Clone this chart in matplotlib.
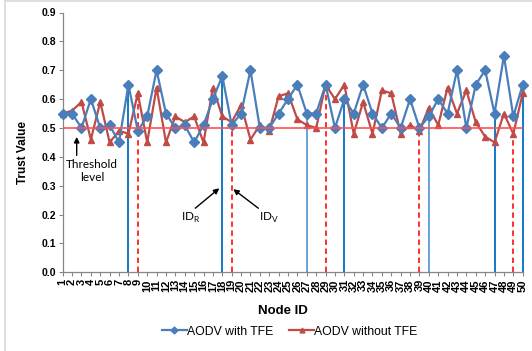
import matplotlib
matplotlib.use('Agg')
import matplotlib.pyplot as plt
from matplotlib.lines import Line2D

# trust values, node 1..50
nodes = list(range(1, 51))
with_tfe = [0.55, 0.55, 0.50, 0.60, 0.50, 0.51, 0.45, 0.65, 0.49, 0.54,
            0.70, 0.55, 0.50, 0.51, 0.45, 0.51, 0.60, 0.68, 0.51, 0.55,
            0.70, 0.50, 0.50, 0.55, 0.60, 0.65, 0.55, 0.55, 0.65, 0.50,
            0.60, 0.55, 0.65, 0.55, 0.50, 0.55, 0.50, 0.60, 0.50, 0.54,
            0.60, 0.55, 0.70, 0.50, 0.65, 0.70, 0.55, 0.75, 0.54, 0.65]
without_tfe = [0.55, 0.56, 0.59, 0.46, 0.59, 0.45, 0.49, 0.48, 0.62, 0.45,
               0.64, 0.45, 0.54, 0.52, 0.54, 0.45, 0.64, 0.54, 0.52, 0.58,
               0.46, 0.51, 0.49, 0.61, 0.62, 0.53, 0.51, 0.50, 0.65, 0.60,
               0.65, 0.48, 0.59, 0.48, 0.63, 0.62, 0.48, 0.51, 0.49, 0.57,
               0.51, 0.64, 0.55, 0.63, 0.52, 0.47, 0.45, 0.55, 0.48, 0.62]
threshold = 0.5
marked_with = [8, 18, 27, 31, 40, 47, 50]
marked_without = [9, 19, 29, 39, 49]
yticks = [0.0, 0.1, 0.2, 0.3, 0.4, 0.5, 0.6, 0.7, 0.8, 0.9]

W, H = 532, 351
plt.rcParams['font.family'] = ['Liberation Sans', 'DejaVu Sans']
fig = plt.figure(figsize=(W / 100, H / 100), dpi=100)
ax = fig.add_axes([62.7 / W, 1 - 272.3 / H, 460 / W, 259.8 / H])

blue = '#4A7EBB'
red = '#BE4B48'
gray = '#868686'

# vertical marker lines
light = {27, 40}
for n in marked_with:
    c = '#5B9BD5' if n in light else '#0070C0'
    ax.vlines(n, 0, with_tfe[n - 1], colors=c, lw=1.3, zorder=2, clip_on=False)
for n in marked_without:
    ax.vlines(n, 0, without_tfe[n - 1], colors='#FF2020', lw=1.3,
              linestyles=(0, (3, 2)), zorder=2)

ax.plot(nodes, with_tfe, color=blue, lw=1.6, marker='D', ms=5,
        clip_on=False, zorder=4)
ax.plot(nodes, without_tfe, color=red, lw=1.6, marker='^', ms=5,
        clip_on=False, zorder=3)
ax.axhline(threshold, color='#FF5050', lw=1.4, alpha=0.85, zorder=5)

ax.set_xlim(1, 50)
ax.set_ylim(0, 0.9)
ax.set_yticks(yticks)
ax.set_yticklabels(['%.1f' % v for v in yticks], fontsize=7.5, fontweight='bold')
ax.set_xticks(nodes)
ax.set_xticklabels([str(n) for n in nodes], rotation=90, fontsize=8,
                   fontweight='bold')
ax.tick_params(direction='out', length=3, width=0.8, color=gray, pad=2)
for s in ['top', 'right']:
    ax.spines[s].set_visible(False)
for s in ['left', 'bottom']:
    ax.spines[s].set_color(gray)
    ax.spines[s].set_linewidth(0.9)

fig.text(283 / W, 1 - 311 / H, 'Node ID', fontsize=9.5, fontweight='bold',
         ha='center', va='center')
fig.text(23 / W, 1 - 153 / H, 'Trust Value', fontsize=8.5, fontweight='bold',
         ha='center', va='center', rotation=90)

# annotations
ann_font = ['Lato', 'DejaVu Sans']
arrow = dict(arrowstyle='-|>', color='black', lw=1, mutation_scale=8,
             shrinkA=0, shrinkB=0)
ax.annotate('', xy=(2.49, 0.469), xytext=(2.49, 0.405), arrowprops=arrow)
ax.text(4.12, 0.35, 'Threshold\nlevel', family=ann_font, fontsize=8.5,
        ha='center', va='center', linespacing=1.2)
ax.annotate('', xy=(17.68, 0.291), xytext=(15.12, 0.222), arrowprops=arrow)
ax.text(14.6, 0.19, r'ID$_\mathregular{R}$', family=ann_font, fontsize=8.5,
        ha='center', va='center')
ax.annotate('', xy=(19.17, 0.288), xytext=(21.84, 0.222), arrowprops=arrow)
ax.text(23.0, 0.19, r'ID$_\mathregular{V}$', family=ann_font, fontsize=8.5,
        ha='center', va='center')

handles = [Line2D([], [], color=blue, lw=1.6, marker='D', ms=3.5),
           Line2D([], [], color=red, lw=1.6, marker='^', ms=3.5)]
fig.legend(handles, ['AODV with TFE', 'AODV without TFE'], loc='center',
           bbox_to_anchor=(290 / W, 1 - 331.7 / H), ncol=2, frameon=False,
           fontsize=8.8, handlelength=2.0, handletextpad=0.05,
           columnspacing=1.3)

# chart area border (top and left visible)
fig.add_artist(Line2D([5 / W, 1], [1 - 1 / H, 1 - 1 / H], color='#D9D9D9',
                      lw=1.2, transform=fig.transFigure))
fig.add_artist(Line2D([5 / W, 5 / W], [0, 1 - 1 / H], color='#D9D9D9',
                      lw=1.2, transform=fig.transFigure))

fig.savefig('out.png', dpi=100)
